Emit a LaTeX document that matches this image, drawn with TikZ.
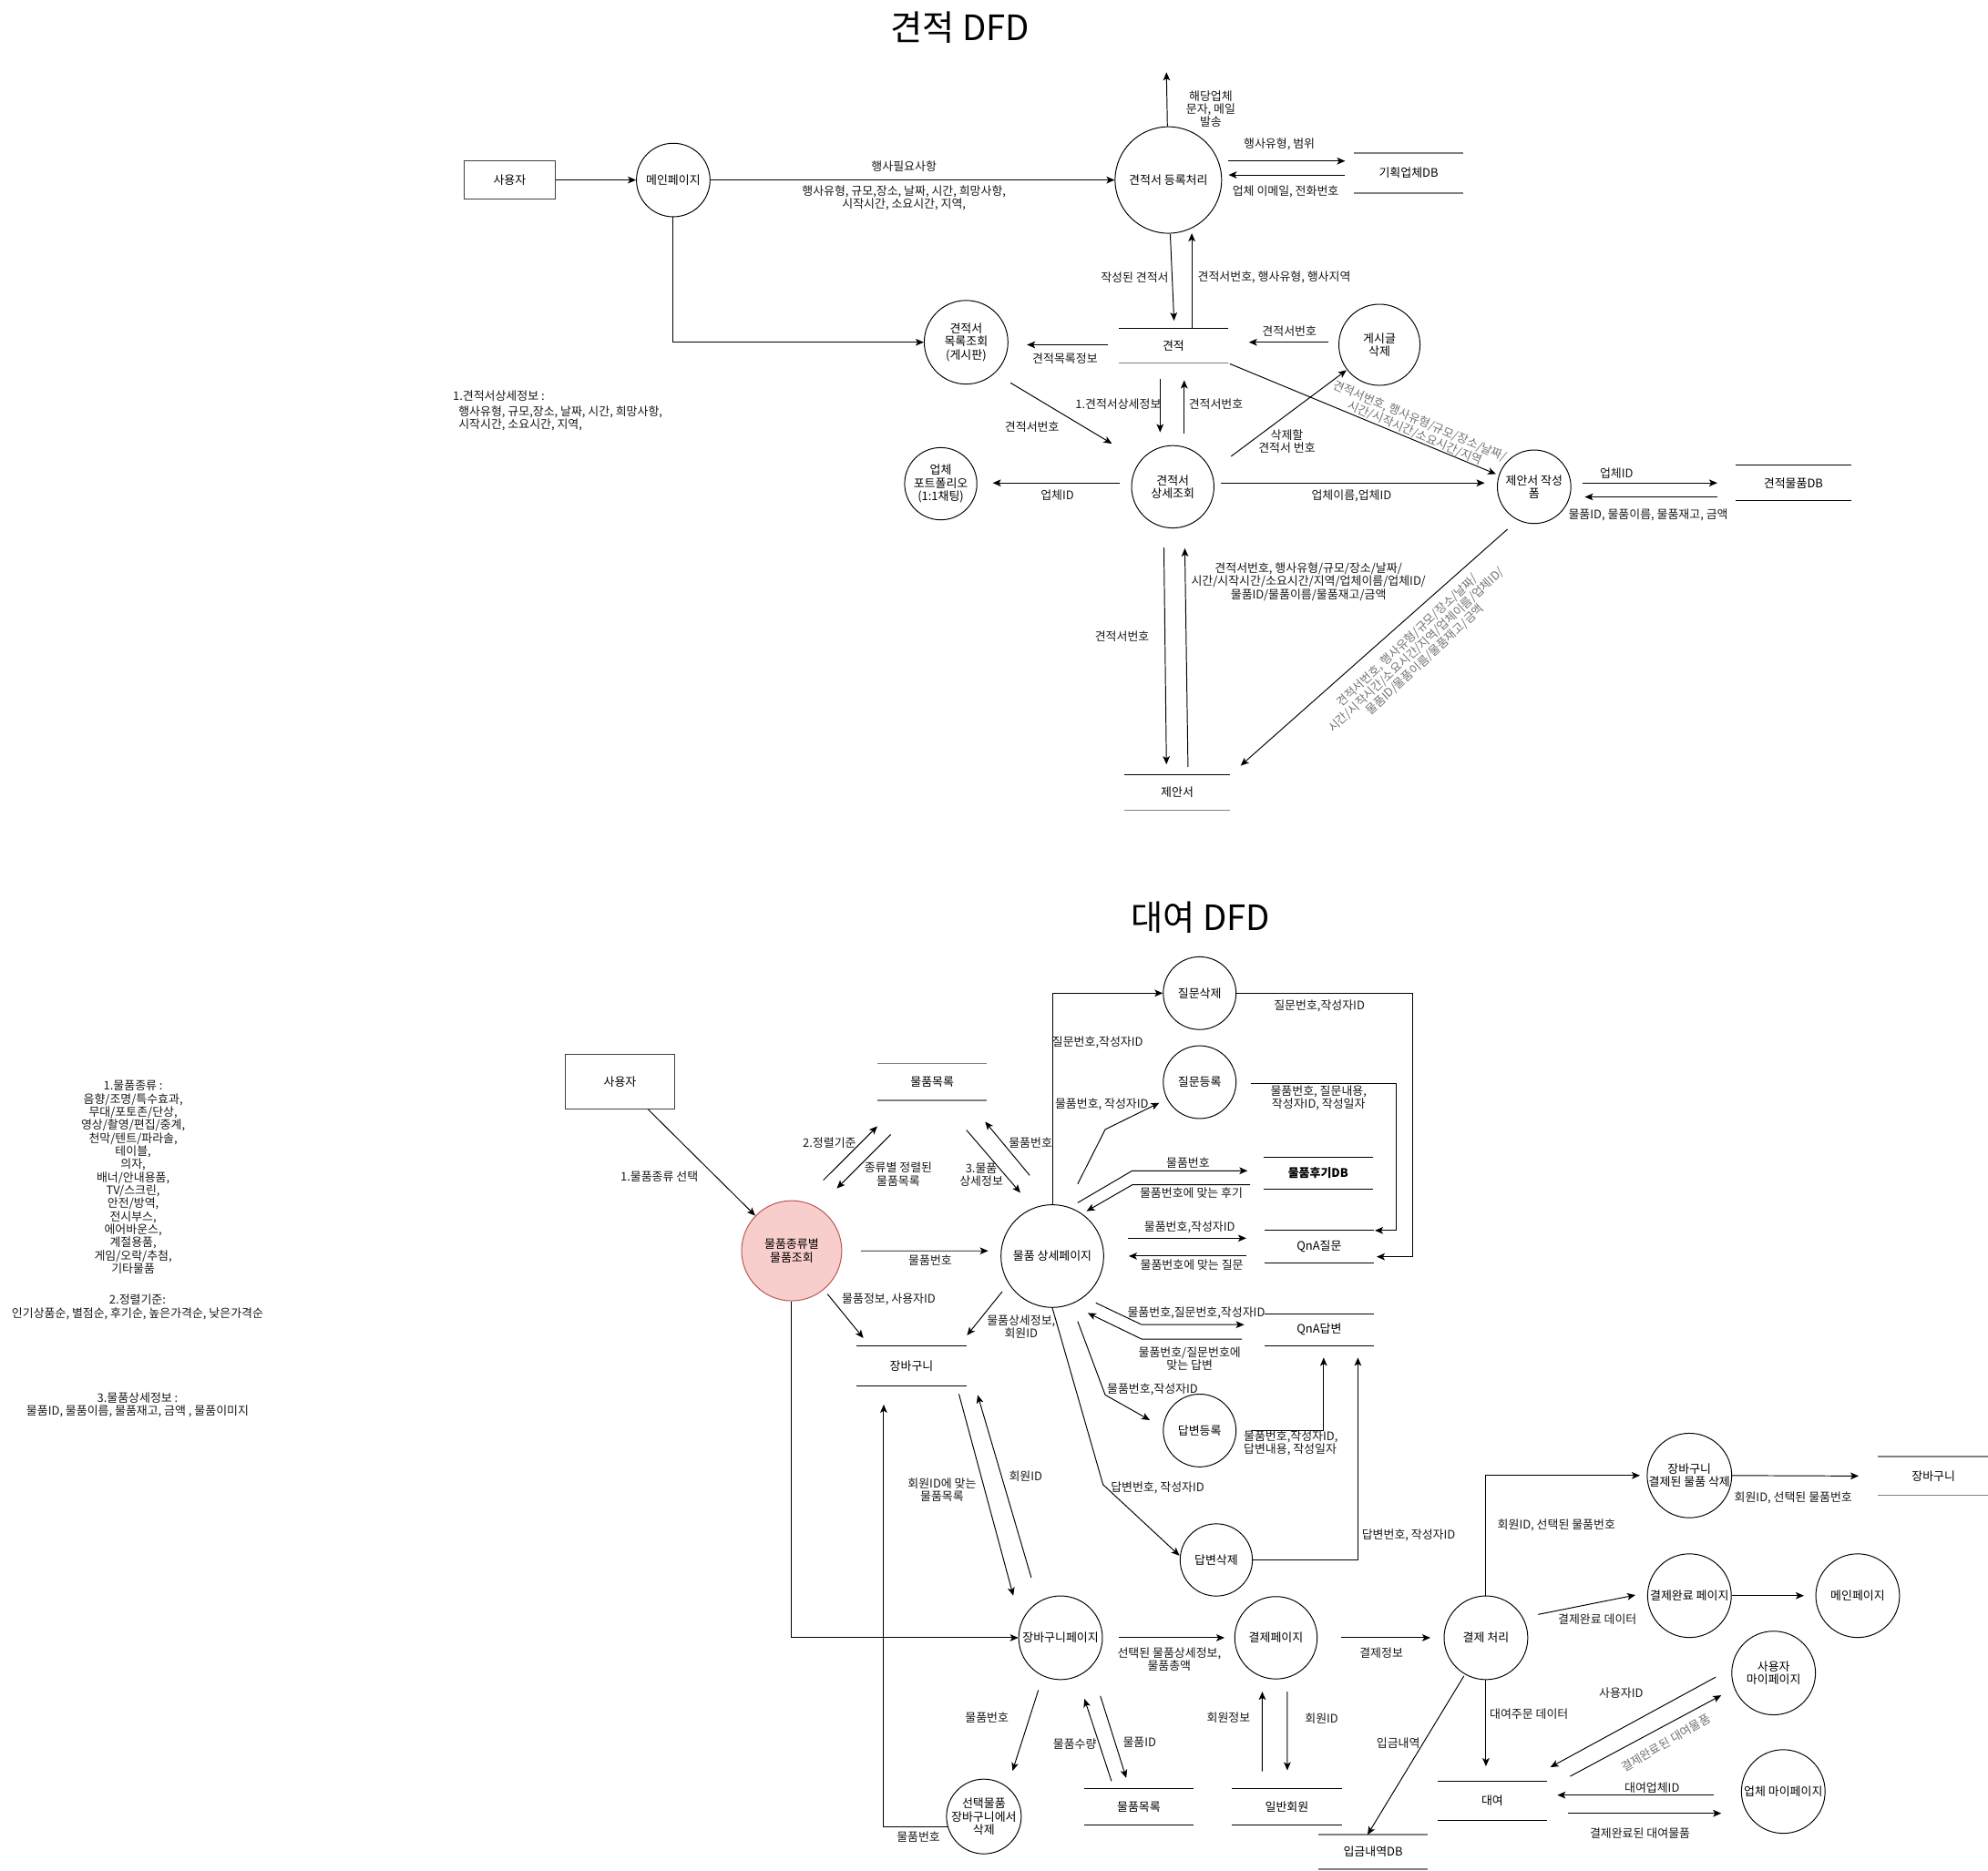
\documentclass[tikz,border=0pt]{standalone}
\usepackage{fontspec}
\setmainfont{Noto Sans CJK KR}
\usetikzlibrary{arrows.meta,calc}

\tikzset{
  lbl/.style={inner sep=0pt, align=center, text=black!90},
  rlbl/.style={lbl, text=black!55},
  sl/.style={draw=black, line width=0.7pt},
  slg/.style={draw=black!50, line width=1.1pt},
  arr/.style={draw=black, line width=0.7pt, -{Stealth[length=6.5pt,width=5.5pt,inset=1.6pt]}},
  bubble/.style={circle, draw=black, line width=0.7pt, inner sep=0pt, align=center, minimum size=#1pt},
  entity/.style 2 args={draw=black!75, line width=0.9pt, inner sep=0pt, minimum width=#1pt, minimum height=#2pt},
  dstore/.style n args={4}{inner sep=0pt, minimum width=#1pt, minimum height=#2pt,
    append after command={(\tikzlastnode.north west) edge[#3] (\tikzlastnode.north east)
                          (\tikzlastnode.south west) edge[#4] (\tikzlastnode.south east)}},
  titletext/.style={inner sep=0pt, font=\fontsize{27.5}{32}\selectfont},
}

\begin{document}
\begin{tikzpicture}[x=1pt, y=-1pt, every node/.append style={font=\fontsize{9.3}{10.3}\selectfont}]
\fill[white] (0,0) rectangle (1568,1476);
\useasboundingbox (0,0) rectangle (1568,1476);

% ================= 견적 DFD =================
\node[titletext] (title1) at (757,21.6) {견적 DFD};

\node[entity={72}{30}] (u1) at (402,142) {사용자};
\node[bubble=58] (m1) at (531,142) {메인페이지};
\node[bubble=84] (reg) at (921.5,142) {견적서 등록처리};
\node[bubble=64] (gdel) at (1088,272) {게시글\\삭제};
\node[bubble=66] (list) at (762,270) {견적서\\목록조회\\(게시판)};
\node[bubble=65] (det) at (925,384) {견적서\\상세조회};
\node[bubble=57] (port) at (742,381.6) {업체\\포트폴리오\\(1:1채팅)};
\node[bubble=58] (prop) at (1210,384) {제안서 작성\\폼};

\node[dstore={86}{31}{slg}{slg}] (db1) at (1111,136.5) {기획업체DB};
\node[dstore={86}{27}{sl}{slg}] (est) at (925.5,272.5) {견적};
\node[dstore={91}{28}{sl}{sl}] (db2) at (1414.5,381) {견적물품DB};
\node[dstore={82.5}{28}{sl}{slg}] (pstore) at (928.5,625) {제안서};

\coordinate (sms) at (920,57);

\draw[arr] (u1) -- (m1);
\draw[arr] (m1) -- (reg);
\draw[arr] (reg) -- (sms);
\draw[arr] ($(reg)+(47.5,-15)$) -- ($(db1)+(-50,-9.5)$);
\draw[arr] ($(db1)+(-50,1.5)$) -- ($(reg)+(47.5,-4)$);
\draw[arr] ($(reg)+(1.5,42.5)$) -- ($(est)+(0.5,-19.5)$);
\draw[arr] ($(est)+(14.5,-13.5)$) -- ($(reg)+(18.5,42)$);
\draw[arr] ($(gdel)+(-40,-2)$) -- ($(est)+(59.5,-2.5)$);
\draw[arr] ($(est)+(-51.5,-0.5)$) -- ($(list)+(48,2)$);
\draw[arr] (m1.south) |- (list.west);
\draw[arr] ($(list)+(35,32)$) -- ($(det)+(-48,-34)$);
\draw[arr] ($(est)+(-10.5,26.5)$) -- ($(det)+(-10,-43)$);
\draw[arr] ($(det)+(9,-42)$) -- ($(est)+(8.5,27.5)$);
\draw[arr] ($(est)+(44.5,14.5)$) -- ($(prop)+(-30,-10)$);
\draw[arr] ($(det)+(46,-24)$) -- ($(gdel)+(-26,20)$);
\draw[arr] ($(det)+(-42,-3)$) -- ($(port)+(41,-0.6)$);
\draw[arr] ($(det)+(38,-3)$) -- ($(prop)+(-39,-3)$);
\draw[arr] ($(prop)+(38.5,-3)$) -- ($(db2)+(-60,0)$);
\draw[arr] ($(db2)+(-60,11)$) -- ($(prop)+(40,8)$);
\draw[arr] ($(det)+(-7,48)$) -- ($(pstore)+(-8.5,-22)$);
\draw[arr] ($(pstore)+(8.5,-20)$) -- ($(det)+(9.5,48.5)$);
\draw[arr] ($(prop)+(-21,33.5)$) -- ($(pstore)+(50,-21)$);

\node[lbl] (a1) at (713,131) {행사필요사항};
\node[lbl] (a2) at (713,156) {행사유형, 규모,장소, 날짜, 시간, 희망사항,\\시작시간, 소요시간, 지역,};
\node[lbl] (a3) at (955,86) {해당업체\\문자, 메일\\발송};
\node[lbl] (a4) at (1009,114) {행사유형, 범위};
\node[lbl] (a5) at (1014,151) {업체 이메일, 전화번호};
\node[lbl] (a6) at (895,219) {작성된 견적서};
\node[lbl] (a7) at (1005,219) {견적서번호, 행사유형, 행사지역};
\node[lbl] (a8) at (1017,261.5) {견적서번호};
\node[lbl] (a9) at (840,283) {견적목록정보};
\node[lbl] (a10) at (814,337) {견적서번호};
\node[lbl] (a11) at (882,319) {1.견적서상세정보};
\node[lbl] (a12) at (959,319) {견적서번호};
\node[lbl] (a13) at (1015,348) {삭제할\\견적서 번호};
\node[rlbl, rotate=-23] (a14) at (1118,337) {견적서번호, 행사유형/규모/장소/날짜/\\시간/시작시간/소요시간/지역};
\node[lbl] (a15) at (834,391) {업체ID};
\node[lbl] (a16) at (1066,391) {업체이름,업체ID};
\node[lbl] (a17) at (1275,373.5) {업체ID};
\node[lbl] (a18) at (1300,406.5) {물품ID, 물품이름, 물품재고, 금액};
\node[lbl] (a19) at (885,502) {견적서번호};
\node[lbl] (a20) at (1032,459) {견적서번호, 행사유형/규모/장소/날짜/\\시간/시작시간/소요시간/지역/업체이름/업체ID/\\물품ID/물품이름/물품재고/금액};
\node[rlbl, rotate=43] (a21) at (1117,513) {견적서번호, 행사유형/규모/장소/날짜/\\시간/시작시간/소요시간/지역/업체이름/업체ID/\\물품ID/물품이름/물품재고/금액};
\node[lbl, anchor=west] (a22) at (357,312.6) {1.견적서상세정보 :};
\node[lbl, anchor=west, align=left] (a23) at (361.5,330) {행사유형, 규모,장소, 날짜, 시간, 희망사항,\\시작시간, 소요시간, 지역,};

% ================= 대여 DFD =================
\node[titletext] (title2) at (947,724) {대여 DFD};

\node[lbl] (legA) at (105,928.9) {1.물품종류 :\\음향/조명/특수효과,\\무대/포토존/단상,\\영상/촬영/편집/중계,\\천막/텐트/파라솔,\\테이블,\\의자,\\배너/안내용품,\\TV/스크린,\\안전/방역,\\전시부스,\\에어바운스,\\계절용품,\\게임/오락/추첨,\\기타물품};
\node[lbl] (legB) at (108.5,1031) {2.정렬기준:\\인기상품순, 별점순, 후기순, 높은가격순, 낮은가격순};
\node[lbl] (legC) at (108.5,1108.3) {3.물품상세정보 :\\물품ID, 물품이름, 물품재고, 금액 , 물품이미지};

\node[entity={86}{43}] (u2) at (489,853.5) {사용자};
\node[bubble=79, fill={rgb,255:red,248;green,206;blue,204}, draw={rgb,255:red,184;green,84;blue,80}] (q) at (624.4,986.7) {물품종류별\\물품조회};
\node[bubble=81] (d) at (830,990.9) {물품 상세페이지};
\node[bubble=57.4] (qdel) at (946.2,783.5) {질문삭제};
\node[bubble=57.4] (qreg) at (946.2,853.7) {질문등록};
\node[bubble=57.4] (areg) at (946.2,1128.5) {답변등록};
\node[bubble=57] (adel) at (959.3,1230.6) {답변삭제};
\node[bubble=66] (cp) at (836.5,1292) {장바구니페이지};
\node[bubble=65] (pay) at (1006.4,1292) {결제페이지};
\node[bubble=66] (proc) at (1172,1292) {결제 처리};
\node[bubble=58] (sdel) at (776,1433) {선택물품\\장바구니에서\\삭제};
\node[bubble=66] (cdel) at (1332.5,1164) {장바구니\\결제된 물품 삭제};
\node[bubble=66] (done) at (1332.5,1258.8) {결제완료 페이지};
\node[bubble=66] (main2) at (1465.2,1258.8) {메인페이지};
\node[bubble=66] (umy) at (1398.9,1319.8) {사용자\\마이페이지};
\node[bubble=66] (vmy) at (1406.5,1413.3) {업체 마이페이지};

\node[dstore={86}{28.5}{slg}{slg}] (plist) at (735.3,853.5) {물품목록};
\node[dstore={86.6}{31}{sl}{sl}] (cart) at (719,1077.3) {장바구니};
\node[dstore={86}{25}{sl}{sl}] (rdb) at (1039.7,925.5) {\bfseries 물품후기DB};
\node[dstore={86}{25.2}{sl}{sl}] (qq) at (1040.5,983.4) {QnA질문};
\node[dstore={86}{24.8}{sl}{sl}] (qa) at (1040.5,1049) {QnA답변};
\node[dstore={85.7}{29}{sl}{sl}] (plist2) at (898.2,1425.3) {물품목록};
\node[dstore={86.4}{29}{sl}{sl}] (mem) at (1015,1425.3) {일반회원};
\node[dstore={86}{27}{slg}{slg}] (dep) at (1083,1461) {입금내역DB};
\node[dstore={85.7}{30.7}{sl}{sl}] (rent) at (1177,1420.6) {대여};
\node[dstore={87}{30}{slg}{slg}] (cart2) at (1525,1164.4) {장바구니};

% product browsing
\draw[arr] ($(u2)+(22,21.5)$) -- ($(q)+(-28.7,-27.7)$);
\draw[arr] ($(q)+(25,-55.7)$) -- ($(plist)+(-43.3,35)$);
\draw[arr] ($(plist)+(-32.8,41.5)$) -- ($(q)+(35.6,-49.2)$);
\draw[arr] ($(plist)+(27,38)$) -- ($(d)+(-25.2,-50)$);
\draw[arr] ($(d)+(-17.8,-63.6)$) -- ($(plist)+(41.7,31.4)$);
\draw[arr] ($(q)+(54.8,0.1)$) -- ($(d)+(-50.6,-4.1)$);
\draw[arr] ($(q)+(28.3,34.2)$) -- ($(cart)+(-38,-21.7)$);
\draw[arr] ($(d)+(-39.5,28)$) -- ($(cart)+(43.7,-23.9)$);

% Q&A and reviews
\draw[arr] (d.north) |- (qdel.west);
\draw[arr] (qdel.east) -| ($(qq)+(73.8,8)$) -- ($(qq)+(45.3,8)$);
\draw[arr] ($(d)+(20,-56.9)$) -- ($(d)+(41.7,-99.9)$) -- ($(qreg)+(-31.8,16.3)$);
\draw[arr] ($(qreg)+(40.4,1.3)$) -| ($(qq)+(61,-12.7)$) -- ($(qq)+(43.9,-12.7)$);
\draw[arr] ($(d)+(20,-42.1)$) -- ($(d)+(63,-67.3)$) -- ($(rdb)+(-55.7,-1.9)$);
\draw[arr] ($(rdb)+(-53.7,9.2)$) -- ($(d)+(63,-56.2)$) -- ($(d)+(27,-35.4)$);
\draw[arr] ($(d)+(59.6,-14.1)$) -- ($(qq)+(-57.5,-6.6)$);
\draw[arr] ($(qq)+(-57.5,7.5)$) -- ($(d)+(60.3,0)$);
\draw[arr] ($(d)+(34.3,36.9)$) -- ($(d)+(70.5,54.1)$) -- ($(qa)+(-59.2,-4)$);
\draw[arr] ($(qa)+(-61,7.4)$) -- ($(d)+(70.5,65.5)$) -- ($(d)+(28,44.9)$);
\draw[arr] ($(d)+(20,51.5)$) -- ($(d)+(41.7,109.5)$) -- ($(areg)+(-39.3,-8.2)$);
\draw[arr] ($(areg)+(40.4,0.4)$) -| ($(qa)+(3.5,22)$);
\draw[arr] (d.south) -- ($(d)+(40,180.3)$) -- ($(adel)+(-29,-3.4)$);
\draw[arr] (adel.east) -| ($(qa)+(30.5,22)$);

% cart and payment
\draw[arr] ($(cart)+(37.3,22.4)$) -- ($(cp)+(-37.3,-33.2)$);
\draw[arr] ($(cp)+(-23.1,-47.4)$) -- ($(cart)+(52.1,23.2)$);
\draw[arr] (q.south) |- (cp.west);
\draw[arr] ($(cp)+(-17.5,41.3)$) -- ($(sdel)+(22.6,-36)$);
\draw[arr] ($(sdel)+(-28.6,8)$) -| ($(cart)+(-22,30.7)$);
\draw[arr] ($(cp)+(31.4,45.9)$) -- ($(plist2)+(-9.9,-22.7)$);
\draw[arr] ($(plist2)+(-21.5,-20.1)$) -- ($(cp)+(18.8,48.2)$);
\draw[arr] ($(cp)+(46,0)$) -- ($(pay)+(-40.6,0)$);
\draw[arr] ($(pay)+(51.2,0)$) -- ($(proc)+(-43.8,0)$);
\draw[arr] ($(mem)+(-19.4,-27.9)$) -- ($(pay)+(-10.8,42.5)$);
\draw[arr] ($(pay)+(8.9,42.5)$) -- ($(mem)+(0.3,-28.7)$);
\draw[arr] ($(proc)+(-17.4,30.2)$) -- ($(dep)+(-4.4,-13.6)$);
\draw[arr] (proc.north) |- ($(cdel)+(-39,0)$);
\draw[arr] (cdel.east) -- ($(cart2)+(-59,0)$);
\draw[arr] ($(proc)+(41.2,-18.4)$) -- ($(done)+(-42.6,-0.5)$);
\draw[arr] (done.east) -- ($(main2)+(-42.4,0)$);
\draw[arr] (proc.south) -- ($(rent)+(-5,-27.2)$);
\draw[arr] ($(umy)+(-45.6,3.2)$) -- ($(rent)+(45.8,-26.5)$);
\draw[arr] ($(rent)+(61.4,-19.3)$) -- ($(umy)+(-41.3,17.6)$);
\draw[arr] ($(vmy)+(-55.1,2.8)$) -- ($(rent)+(51.3,-4.5)$);
\draw[arr] ($(rent)+(59.5,9.9)$) -- ($(vmy)+(-48.9,17.2)$);

% flow labels
\node[lbl] (b1) at (520,928) {1.물품종류 선택};
\node[lbl] (b2) at (654.2,901.3) {2.정렬기준};
\node[lbl] (b3) at (708.5,926.4) {종류별 정렬된\\물품목록};
\node[lbl] (b4) at (774,926.8) {3.물품\\상세정보};
\node[lbl] (b5) at (812.8,901.3) {물품번호};
\node[lbl] (b6) at (733.7,994.6) {물품번호};
\node[lbl] (b7) at (701,1024.7) {물품정보, 사용자ID};
\node[lbl] (b8) at (805.4,1046.8) {물품상세정보,\\회원ID};
\node[lbl] (b9) at (865.7,822) {질문번호,작성자ID};
\node[lbl] (b10) at (1040.6,793.8) {질문번호,작성자ID};
\node[lbl] (b11) at (869,871.2) {물품번호, 작성자ID};
\node[lbl] (b12) at (1040,866.3) {물품번호, 질문내용,\\작성자ID, 작성일자};
\node[lbl] (b13) at (937,917) {물품번호};
\node[lbl] (b14) at (939.6,941.4) {물품번호에 맞는 후기};
\node[lbl] (b15) at (938.3,968.2) {물품번호,작성자ID};
\node[lbl] (b16) at (940,998) {물품번호에 맞는 질문};
\node[lbl] (b17) at (943.5,1036) {물품번호,질문번호,작성자ID};
\node[lbl] (b18) at (938.3,1071.9) {물품번호/질문번호에\\맞는 답변};
\node[lbl] (b19) at (909,1096.4) {물품번호,작성자ID};
\node[lbl, anchor=west, align=left] (b20) at (980.8,1138.6) {물품번호,작성자ID,\\답변내용, 작성일자};
\node[lbl] (b21) at (913,1174) {답변번호, 작성자ID};
\node[lbl] (b22) at (1111,1211.3) {답변번호, 작성자ID};
\node[lbl] (b23) at (743,1175.6) {회원ID에 맞는\\물품목록};
\node[lbl] (b24) at (809,1164.6) {회원ID};
\node[lbl] (b25) at (778.4,1355) {물품번호};
\node[lbl] (b26) at (724.4,1449.4) {물품번호};
\node[lbl] (b27) at (847.7,1375.6) {물품수량};
\node[lbl] (b28) at (898.8,1374.3) {물품ID};
\node[lbl] (b29) at (922.2,1309.2) {선택된 물품상세정보,\\물품총액};
\node[lbl] (b30) at (1089.5,1304.3) {결제정보};
\node[lbl] (b31) at (969,1355) {회원정보};
\node[lbl] (b32) at (1042.4,1355.5) {회원ID};
\node[lbl] (b33) at (1102.8,1375) {입금내역};
\node[lbl] (b34) at (1227.6,1203) {회원ID, 선택된 물품번호};
\node[lbl] (b35) at (1414.4,1181.4) {회원ID, 선택된 물품번호};
\node[lbl] (b36) at (1259.9,1277.2) {결제완료 데이터};
\node[lbl] (b37) at (1206,1352.2) {대여주문 데이터};
\node[lbl] (b38) at (1278.6,1335.9) {사용자ID};
\node[rlbl, rotate=30] (b39) at (1313.8,1374.9) {결제완료된 대여물품};
\node[lbl] (b40) at (1303,1410.1) {대여업체ID};
\node[lbl] (b41) at (1293.5,1446) {결제완료된 대여물품};

\end{tikzpicture}
\end{document}
